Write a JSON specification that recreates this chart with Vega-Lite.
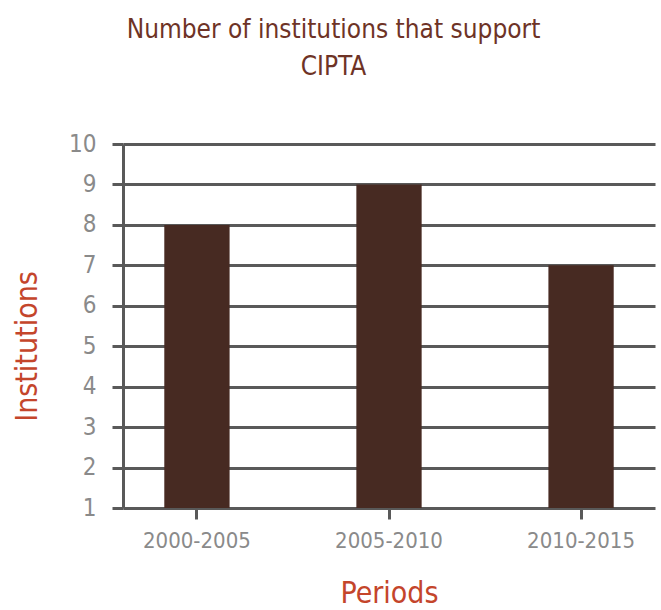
{
  "$schema": "https://vega.github.io/schema/vega-lite/v6.json",
  "autosize": {"type": "none"},
  "width": 532,
  "height": 364,
  "padding": {"left": 123, "top": 144, "right": 6, "bottom": 102},
  "background": "white",
  "config": {
    "font": "DejaVu Sans Condensed",
    "view": {"stroke": null}
  },
  "title": {
    "text": ["Number of institutions that support", "CIPTA"],
    "font": "DejaVu Sans Condensed",
    "fontSize": 26,
    "fontWeight": "normal",
    "color": "#6e3326",
    "lineHeight": 37,
    "anchor": "middle",
    "frame": "bounds",
    "offset": 52
  },
  "data": {
    "values": [
      {"period": "2000-2005", "institutions": 8},
      {"period": "2005-2010", "institutions": 9},
      {"period": "2010-2015", "institutions": 7}
    ]
  },
  "mark": {"type": "bar", "color": "#472a22"},
  "encoding": {
    "x": {
      "field": "period",
      "type": "nominal",
      "sort": null,
      "scale": {"paddingInner": 0.66, "paddingOuter": 0.215},
      "axis": {
        "title": "Periods",
        "titleColor": "#c4452b",
        "titleFont": "DejaVu Sans Condensed",
        "titleFontSize": 30,
        "titleFontWeight": "normal",
        "titlePadding": 27,
        "labelAngle": 0,
        "labelColor": "#8a8a8a",
        "labelFont": "DejaVu Sans Condensed",
        "labelFontSize": 22,
        "labelPadding": 11,
        "domain": false,
        "grid": false,
        "ticks": true,
        "tickColor": "#595959",
        "tickWidth": 3,
        "tickSize": 11
      }
    },
    "y": {
      "field": "institutions",
      "type": "quantitative",
      "scale": {"domain": [1, 10], "nice": false, "zero": false},
      "axis": {
        "title": "Institutions",
        "titleColor": "#c4452b",
        "titleFont": "DejaVu Sans Condensed",
        "titleFontSize": 30,
        "titleFontWeight": "normal",
        "titleX": -96,
        "titleY": 202,
        "titleAlign": "center",
        "titleBaseline": "middle",
        "titleAngle": -90,
        "values": [1, 2, 3, 4, 5, 6, 7, 8, 9, 10],
        "labelColor": "#8a8a8a",
        "labelFont": "DejaVu Sans Condensed",
        "labelFontSize": 24,
        "labelPadding": 16,
        "domain": true,
        "domainColor": "#595959",
        "domainWidth": 3,
        "tickColor": "#595959",
        "tickWidth": 3,
        "tickSize": 11,
        "grid": true,
        "gridColor": "#595959",
        "gridWidth": 3,
        "gridOpacity": 1
      }
    },
    "y2": {"datum": 1}
  }
}
